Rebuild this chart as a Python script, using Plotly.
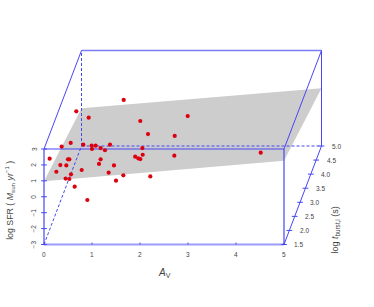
import plotly.graph_objects as go

# Values, on the front-face scales (A_V, log SFR)
point_av = [0.118,0.368,0.556,0.819,0.993,1.0,1.076,1.18,1.27,1.375,2.05,0.34,0.465,0.5,0.528,1.146,1.18,0.257,0.5625,0.451,0.528,0.785,0.639,0.903,1.347,1.458,1.653,1.5,1.90,1.965,2.007,2.056,2.715,2.215,1.66,0.673,0.931,2.006,2.994,2.167,2.723,4.515]
point_sfr = [2.39,3.15,3.38,3.27,3.21,3.0,3.21,3.06,2.92,3.27,3.06,1.99,1.97,2.35,2.35,2.06,2.35,1.57,1.41,1.14,1.115,1.68,0.63,-0.205,1.51,1.97,1.345,1.01,2.52,2.41,2.37,2.64,2.58,1.28,6.08,5.37,4.97,4.76,5.07,3.94,3.82,2.77]
plane_av = [0, 5, 5, 0, 0]
plane_t = [1.5, 1.5, 5.0, 5.0, 1.5]
plane_sfr = [0.97, 2.26, 0.63, -0.63, 0.97]
av_ticks = [0, 1, 2, 3, 4, 5]
sfr_ticks = [-3, -2, -1, 0, 1, 2, 3]
sfr_tick_labels = ["\u22123", "\u22122", "\u22121", "0", "1", "2", "3"]
t_ticks = [1.5, 2.0, 2.5, 3.0, 3.5, 4.0, 4.5, 5.0]

SHIFT_X = 37.5 / 48 / 3.5
SHIFT_Y = 98.5 / 15.917 / 3.5
BLUE = "#4646f5"
PALE = "#9c9cfa"
FONT = "Liberation Sans"
TXT = "#444444"

def px(av, t):
    return av + (t - 1.5) * SHIFT_X
def py(s, t):
    return s + (t - 1.5) * SHIFT_Y

fig = go.Figure()

# plane
fig.add_trace(go.Scatter(x=[px(a, t) for a, t in zip(plane_av, plane_t)],
                         y=[py(s, t) for s, t in zip(plane_sfr, plane_t)],
                         mode="lines", fill="toself", fillcolor="#cdcdcd",
                         line=dict(width=0), hoverinfo="skip"))

def seg(p0, p1, dash="solid", w=1.0, color=BLUE):
    a0, s0, t0 = p0
    a1, s1, t1 = p1
    fig.add_trace(go.Scatter(x=[px(a0, t0), px(a1, t1)], y=[py(s0, t0), py(s1, t1)],
                             mode="lines", line=dict(color=color, width=w, dash=dash),
                             hoverinfo="skip"))

# hidden box edges
seg((0, -3, 5), (0, 3, 5), "3px,2px")
seg((0, -3, 5), (5, -3, 5), "3px,2px")
seg((0, -3, 1.5), (0, -3, 5), "3px,2px")
# solid box edges
seg((0, -3, 1.5), (5, -3, 1.5), w=2, color=PALE)
seg((0, -3, 1.5), (0, 3, 1.5), w=1.2)
seg((5, -3, 1.5), (5, 3, 1.5), w=1.2)
seg((0, 3, 1.5), (5, 3, 1.5), w=1.2)
seg((0, 3, 5), (5, 3, 5), w=1.6, color="#7c7cf8")
seg((0, 3, 1.5), (0, 3, 5))
seg((5, 3, 1.5), (5, 3, 5))
seg((5, -3, 5), (5, 3, 5))
seg((5, -3, 1.5), (5, -3, 5))

# ticks
for s in sfr_ticks:
    fig.add_trace(go.Scatter(x=[-0.06, 0.06], y=[s, s], mode="lines",
                             line=dict(color=BLUE, width=1), hoverinfo="skip"))
for a in av_ticks:
    fig.add_trace(go.Scatter(x=[a, a], y=[-3, -2.88], mode="lines",
                             line=dict(color=BLUE, width=1), hoverinfo="skip"))
for t in t_ticks:
    fig.add_trace(go.Scatter(x=[px(5, t) - 0.06, px(5, t) + 0.06], y=[py(-3, t)] * 2, mode="lines",
                             line=dict(color=BLUE, width=1), hoverinfo="skip"))

# points
fig.add_trace(go.Scatter(x=point_av, y=point_sfr, mode="markers",
                         marker=dict(color="#dd0010", size=4.2, line=dict(width=0)),
                         hoverinfo="skip"))

def note(x, y, text, size=6.5, angle=0, color=TXT):
    fig.add_annotation(x=x, y=y, xref="x", yref="y", text=text, showarrow=False,
                       textangle=angle, font=dict(family=FONT, size=size, color=color),
                       xanchor="center", yanchor="middle")

for a in av_ticks:
    note(a, -3.62, str(a))
for s, lab in zip(sfr_ticks, sfr_tick_labels):
    note(-0.21, s, lab, angle=-90)
for t in t_ticks:
    note(px(5, t) + 0.31, py(-3, t), f"{t:.1f}")

note(2.5, -4.78, "<i>A</i><sub>V</sub>", size=10)
note(-0.71, -0.2, "log SFR ( <i>M</i><sub>sun</sub> <i>yr</i><sup>\u22121</sup> )", size=8.8, angle=-90)
note(6.07, -2.1, "log <i>t</i><sub>burst,i</sub> (s)", size=9, angle=-90)

fig.update_layout(
    width=374, height=307, margin=dict(l=0, r=0, t=0, b=0),
    paper_bgcolor="white", plot_bgcolor="white", showlegend=False,
    xaxis=dict(range=[-44 / 48, 330 / 48], visible=False, fixedrange=True),
    yaxis=dict(range=[-3 - 62.5 / 15.917, 3 + 149 / 15.917], visible=False, fixedrange=True),
)
fig.write_html("out.html", config=dict(displayModeBar=False),
               post_script="document.body.style.margin='0';document.documentElement.style.overflow='hidden';")
